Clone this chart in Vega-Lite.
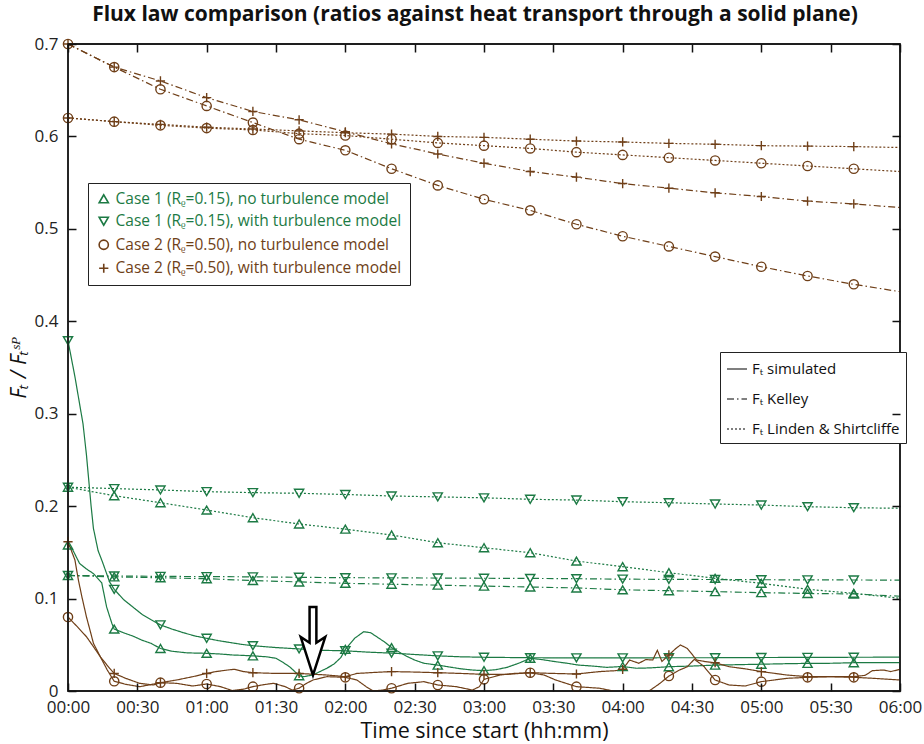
{
 "$schema": "https://vega.github.io/schema/vega-lite/v6.json",
 "width": 832, "height": 647,
 "autosize": "none",
 "padding": {"left": 68, "top": 44, "right": 24, "bottom": 53},
 "background": "white",
 "title": {"text": "Flux law comparison (ratios against heat transport through a solid plane)", "font": "Open Sans", "fontSize": 21, "fontWeight": "bold", "color": "#111", "anchor": "middle", "offset": 10, "dx": -9},
 "datasets": {
  "main": [
   {"c":"c2n","law":"kel","t":0,"v":0.700},{"c":"c2n","law":"kel","t":20,"v":0.675},{"c":"c2n","law":"kel","t":40,"v":0.651},{"c":"c2n","law":"kel","t":60,"v":0.633},{"c":"c2n","law":"kel","t":80,"v":0.615},{"c":"c2n","law":"kel","t":100,"v":0.597},{"c":"c2n","law":"kel","t":120,"v":0.585},{"c":"c2n","law":"kel","t":140,"v":0.565},{"c":"c2n","law":"kel","t":160,"v":0.547},{"c":"c2n","law":"kel","t":180,"v":0.532},{"c":"c2n","law":"kel","t":200,"v":0.520},{"c":"c2n","law":"kel","t":220,"v":0.505},{"c":"c2n","law":"kel","t":240,"v":0.492},{"c":"c2n","law":"kel","t":260,"v":0.481},{"c":"c2n","law":"kel","t":280,"v":0.470},{"c":"c2n","law":"kel","t":300,"v":0.459},{"c":"c2n","law":"kel","t":320,"v":0.449},{"c":"c2n","law":"kel","t":340,"v":0.440},{"c":"c2n","law":"kel","t":360,"v":0.432},
   {"c":"c2t","law":"kel","t":0,"v":0.700},{"c":"c2t","law":"kel","t":20,"v":0.675},{"c":"c2t","law":"kel","t":40,"v":0.660},{"c":"c2t","law":"kel","t":60,"v":0.642},{"c":"c2t","law":"kel","t":80,"v":0.627},{"c":"c2t","law":"kel","t":100,"v":0.618},{"c":"c2t","law":"kel","t":120,"v":0.605},{"c":"c2t","law":"kel","t":140,"v":0.592},{"c":"c2t","law":"kel","t":160,"v":0.581},{"c":"c2t","law":"kel","t":180,"v":0.571},{"c":"c2t","law":"kel","t":200,"v":0.562},{"c":"c2t","law":"kel","t":220,"v":0.556},{"c":"c2t","law":"kel","t":240,"v":0.549},{"c":"c2t","law":"kel","t":260,"v":0.544},{"c":"c2t","law":"kel","t":280,"v":0.539},{"c":"c2t","law":"kel","t":300,"v":0.535},{"c":"c2t","law":"kel","t":320,"v":0.530},{"c":"c2t","law":"kel","t":340,"v":0.527},{"c":"c2t","law":"kel","t":360,"v":0.523},
   {"c":"c2n","law":"ls","t":0,"v":0.620},{"c":"c2n","law":"ls","t":20,"v":0.616},{"c":"c2n","law":"ls","t":40,"v":0.612},{"c":"c2n","law":"ls","t":60,"v":0.609},{"c":"c2n","law":"ls","t":80,"v":0.607},{"c":"c2n","law":"ls","t":100,"v":0.603},{"c":"c2n","law":"ls","t":120,"v":0.601},{"c":"c2n","law":"ls","t":140,"v":0.597},{"c":"c2n","law":"ls","t":160,"v":0.593},{"c":"c2n","law":"ls","t":180,"v":0.590},{"c":"c2n","law":"ls","t":200,"v":0.587},{"c":"c2n","law":"ls","t":220,"v":0.583},{"c":"c2n","law":"ls","t":240,"v":0.580},{"c":"c2n","law":"ls","t":260,"v":0.577},{"c":"c2n","law":"ls","t":280,"v":0.574},{"c":"c2n","law":"ls","t":300,"v":0.571},{"c":"c2n","law":"ls","t":320,"v":0.568},{"c":"c2n","law":"ls","t":340,"v":0.565},{"c":"c2n","law":"ls","t":360,"v":0.562},
   {"c":"c2t","law":"ls","t":0,"v":0.620},{"c":"c2t","law":"ls","t":20,"v":0.616},{"c":"c2t","law":"ls","t":40,"v":0.613},{"c":"c2t","law":"ls","t":60,"v":0.610},{"c":"c2t","law":"ls","t":80,"v":0.608},{"c":"c2t","law":"ls","t":100,"v":0.606},{"c":"c2t","law":"ls","t":120,"v":0.604},{"c":"c2t","law":"ls","t":140,"v":0.6025},{"c":"c2t","law":"ls","t":160,"v":0.600},{"c":"c2t","law":"ls","t":180,"v":0.599},{"c":"c2t","law":"ls","t":200,"v":0.597},{"c":"c2t","law":"ls","t":220,"v":0.595},{"c":"c2t","law":"ls","t":240,"v":0.594},{"c":"c2t","law":"ls","t":260,"v":0.5925},{"c":"c2t","law":"ls","t":280,"v":0.5915},{"c":"c2t","law":"ls","t":300,"v":0.590},{"c":"c2t","law":"ls","t":320,"v":0.5895},{"c":"c2t","law":"ls","t":340,"v":0.589},{"c":"c2t","law":"ls","t":360,"v":0.588},
   {"c":"c1t","law":"ls","t":0,"v":0.2205},{"c":"c1t","law":"ls","t":20,"v":0.219},{"c":"c1t","law":"ls","t":40,"v":0.2175},{"c":"c1t","law":"ls","t":60,"v":0.2157},{"c":"c1t","law":"ls","t":80,"v":0.2146},{"c":"c1t","law":"ls","t":100,"v":0.2139},{"c":"c1t","law":"ls","t":120,"v":0.2126},{"c":"c1t","law":"ls","t":140,"v":0.211},{"c":"c1t","law":"ls","t":160,"v":0.210},{"c":"c1t","law":"ls","t":180,"v":0.209},{"c":"c1t","law":"ls","t":200,"v":0.2074},{"c":"c1t","law":"ls","t":220,"v":0.2066},{"c":"c1t","law":"ls","t":240,"v":0.2048},{"c":"c1t","law":"ls","t":260,"v":0.2037},{"c":"c1t","law":"ls","t":280,"v":0.2023},{"c":"c1t","law":"ls","t":300,"v":0.2012},{"c":"c1t","law":"ls","t":320,"v":0.1994},{"c":"c1t","law":"ls","t":340,"v":0.1983},{"c":"c1t","law":"ls","t":360,"v":0.1977},
   {"c":"c1n","law":"ls","t":0,"v":0.2205},{"c":"c1n","law":"ls","t":20,"v":0.2113},{"c":"c1n","law":"ls","t":40,"v":0.2037},{"c":"c1n","law":"ls","t":60,"v":0.1958},{"c":"c1n","law":"ls","t":80,"v":0.1875},{"c":"c1n","law":"ls","t":100,"v":0.1807},{"c":"c1n","law":"ls","t":120,"v":0.1751},{"c":"c1n","law":"ls","t":140,"v":0.1688},{"c":"c1n","law":"ls","t":160,"v":0.1604},{"c":"c1n","law":"ls","t":180,"v":0.155},{"c":"c1n","law":"ls","t":200,"v":0.1496},{"c":"c1n","law":"ls","t":220,"v":0.1406},{"c":"c1n","law":"ls","t":240,"v":0.1345},{"c":"c1n","law":"ls","t":260,"v":0.128},{"c":"c1n","law":"ls","t":280,"v":0.1219},{"c":"c1n","law":"ls","t":300,"v":0.1165},{"c":"c1n","law":"ls","t":320,"v":0.110},{"c":"c1n","law":"ls","t":340,"v":0.1057},{"c":"c1n","law":"ls","t":360,"v":0.1003},
   {"c":"c1t","law":"kel","t":0,"v":0.125},{"c":"c1t","law":"kel","t":20,"v":0.1245},{"c":"c1t","law":"kel","t":40,"v":0.124},{"c":"c1t","law":"kel","t":60,"v":0.1238},{"c":"c1t","law":"kel","t":80,"v":0.1235},{"c":"c1t","law":"kel","t":100,"v":0.123},{"c":"c1t","law":"kel","t":120,"v":0.1226},{"c":"c1t","law":"kel","t":140,"v":0.1224},{"c":"c1t","law":"kel","t":160,"v":0.1222},{"c":"c1t","law":"kel","t":180,"v":0.122},{"c":"c1t","law":"kel","t":200,"v":0.1218},{"c":"c1t","law":"kel","t":220,"v":0.1215},{"c":"c1t","law":"kel","t":240,"v":0.121},{"c":"c1t","law":"kel","t":260,"v":0.1208},{"c":"c1t","law":"kel","t":280,"v":0.1206},{"c":"c1t","law":"kel","t":300,"v":0.1204},{"c":"c1t","law":"kel","t":320,"v":0.1202},{"c":"c1t","law":"kel","t":340,"v":0.1201},{"c":"c1t","law":"kel","t":360,"v":0.120},
   {"c":"c1n","law":"kel","t":0,"v":0.125},{"c":"c1n","law":"kel","t":20,"v":0.1235},{"c":"c1n","law":"kel","t":40,"v":0.1225},{"c":"c1n","law":"kel","t":60,"v":0.1215},{"c":"c1n","law":"kel","t":80,"v":0.1195},{"c":"c1n","law":"kel","t":100,"v":0.118},{"c":"c1n","law":"kel","t":120,"v":0.1165},{"c":"c1n","law":"kel","t":140,"v":0.1155},{"c":"c1n","law":"kel","t":160,"v":0.1145},{"c":"c1n","law":"kel","t":180,"v":0.1135},{"c":"c1n","law":"kel","t":200,"v":0.1125},{"c":"c1n","law":"kel","t":220,"v":0.1115},{"c":"c1n","law":"kel","t":240,"v":0.1095},{"c":"c1n","law":"kel","t":260,"v":0.1085},{"c":"c1n","law":"kel","t":280,"v":0.1075},{"c":"c1n","law":"kel","t":300,"v":0.1064},{"c":"c1n","law":"kel","t":320,"v":0.1055},{"c":"c1n","law":"kel","t":340,"v":0.105},{"c":"c1n","law":"kel","t":360,"v":0.1025},
   {"c":"c1t","law":"sim","t":0,"v":0.379},{"c":"c1t","law":"sim","t":3,"v":0.34},{"c":"c1t","law":"sim","t":6.5,"v":0.289},{"c":"c1t","law":"sim","t":8,"v":0.255},{"c":"c1t","law":"sim","t":10,"v":0.2},{"c":"c1t","law":"sim","t":11,"v":0.176},{"c":"c1t","law":"sim","t":13,"v":0.152},{"c":"c1t","law":"sim","t":15,"v":0.139},{"c":"c1t","law":"sim","t":18,"v":0.118},{"c":"c1t","law":"sim","t":20,"v":0.110},{"c":"c1t","law":"sim","t":24,"v":0.099},{"c":"c1t","law":"sim","t":28,"v":0.091},{"c":"c1t","law":"sim","t":32,"v":0.083},{"c":"c1t","law":"sim","t":36,"v":0.077},{"c":"c1t","law":"sim","t":40,"v":0.0715},{"c":"c1t","law":"sim","t":45,"v":0.067},{"c":"c1t","law":"sim","t":50,"v":0.063},{"c":"c1t","law":"sim","t":55,"v":0.0595},{"c":"c1t","law":"sim","t":60,"v":0.057},{"c":"c1t","law":"sim","t":65,"v":0.0545},{"c":"c1t","law":"sim","t":70,"v":0.0525},{"c":"c1t","law":"sim","t":75,"v":0.0505},{"c":"c1t","law":"sim","t":80,"v":0.049},{"c":"c1t","law":"sim","t":90,"v":0.047},{"c":"c1t","law":"sim","t":100,"v":0.0455},{"c":"c1t","law":"sim","t":110,"v":0.044},{"c":"c1t","law":"sim","t":120,"v":0.0435},{"c":"c1t","law":"sim","t":130,"v":0.042},{"c":"c1t","law":"sim","t":140,"v":0.041},{"c":"c1t","law":"sim","t":150,"v":0.0395},{"c":"c1t","law":"sim","t":160,"v":0.038},{"c":"c1t","law":"sim","t":170,"v":0.037},{"c":"c1t","law":"sim","t":180,"v":0.0365},{"c":"c1t","law":"sim","t":200,"v":0.036},{"c":"c1t","law":"sim","t":220,"v":0.0358},{"c":"c1t","law":"sim","t":240,"v":0.0358},{"c":"c1t","law":"sim","t":260,"v":0.036},{"c":"c1t","law":"sim","t":280,"v":0.036},{"c":"c1t","law":"sim","t":300,"v":0.0362},{"c":"c1t","law":"sim","t":320,"v":0.0364},{"c":"c1t","law":"sim","t":340,"v":0.0365},{"c":"c1t","law":"sim","t":360,"v":0.0366},
   {"c":"c1n","law":"sim","t":0,"v":0.158},{"c":"c1n","law":"sim","t":2,"v":0.153},{"c":"c1n","law":"sim","t":5,"v":0.138},{"c":"c1n","law":"sim","t":8,"v":0.132},{"c":"c1n","law":"sim","t":11,"v":0.127},{"c":"c1n","law":"sim","t":14.6,"v":0.117},{"c":"c1n","law":"sim","t":16.7,"v":0.091},{"c":"c1n","law":"sim","t":19,"v":0.073},{"c":"c1n","law":"sim","t":20,"v":0.067},{"c":"c1n","law":"sim","t":24,"v":0.063},{"c":"c1n","law":"sim","t":28,"v":0.0595},{"c":"c1n","law":"sim","t":32,"v":0.055},{"c":"c1n","law":"sim","t":36,"v":0.0515},{"c":"c1n","law":"sim","t":40,"v":0.046},{"c":"c1n","law":"sim","t":45,"v":0.043},{"c":"c1n","law":"sim","t":51,"v":0.0414},{"c":"c1n","law":"sim","t":55,"v":0.041},{"c":"c1n","law":"sim","t":60,"v":0.0408},{"c":"c1n","law":"sim","t":66,"v":0.040},{"c":"c1n","law":"sim","t":71,"v":0.039},{"c":"c1n","law":"sim","t":76,"v":0.0385},{"c":"c1n","law":"sim","t":80,"v":0.038},{"c":"c1n","law":"sim","t":86,"v":0.037},{"c":"c1n","law":"sim","t":90,"v":0.0354},{"c":"c1n","law":"sim","t":93,"v":0.031},{"c":"c1n","law":"sim","t":96,"v":0.026},{"c":"c1n","law":"sim","t":99,"v":0.019},{"c":"c1n","law":"sim","t":100,"v":0.0165},{"c":"c1n","law":"sim","t":102,"v":0.0155},{"c":"c1n","law":"sim","t":106,"v":0.0173},{"c":"c1n","law":"sim","t":109,"v":0.021},{"c":"c1n","law":"sim","t":112,"v":0.0246},{"c":"c1n","law":"sim","t":115,"v":0.029},{"c":"c1n","law":"sim","t":118,"v":0.036},{"c":"c1n","law":"sim","t":120,"v":0.045},{"c":"c1n","law":"sim","t":124,"v":0.057},{"c":"c1n","law":"sim","t":128,"v":0.0642},{"c":"c1n","law":"sim","t":131,"v":0.063},{"c":"c1n","law":"sim","t":134,"v":0.058},{"c":"c1n","law":"sim","t":137,"v":0.053},{"c":"c1n","law":"sim","t":140,"v":0.047},{"c":"c1n","law":"sim","t":144,"v":0.041},{"c":"c1n","law":"sim","t":147,"v":0.037},{"c":"c1n","law":"sim","t":150,"v":0.0335},{"c":"c1n","law":"sim","t":154,"v":0.030},{"c":"c1n","law":"sim","t":160,"v":0.028},{"c":"c1n","law":"sim","t":165,"v":0.026},{"c":"c1n","law":"sim","t":170,"v":0.024},{"c":"c1n","law":"sim","t":175,"v":0.0227},{"c":"c1n","law":"sim","t":180,"v":0.022},{"c":"c1n","law":"sim","t":185,"v":0.023},{"c":"c1n","law":"sim","t":190,"v":0.0256},{"c":"c1n","law":"sim","t":195,"v":0.030},{"c":"c1n","law":"sim","t":200,"v":0.0354},{"c":"c1n","law":"sim","t":205,"v":0.034},{"c":"c1n","law":"sim","t":211,"v":0.0317},{"c":"c1n","law":"sim","t":216,"v":0.030},{"c":"c1n","law":"sim","t":221,"v":0.028},{"c":"c1n","law":"sim","t":227,"v":0.027},{"c":"c1n","law":"sim","t":233,"v":0.0256},{"c":"c1n","law":"sim","t":240,"v":0.0265},{"c":"c1n","law":"sim","t":246,"v":0.0246},{"c":"c1n","law":"sim","t":252,"v":0.025},{"c":"c1n","law":"sim","t":260,"v":0.0263},{"c":"c1n","law":"sim","t":270,"v":0.027},{"c":"c1n","law":"sim","t":280,"v":0.028},{"c":"c1n","law":"sim","t":290,"v":0.0285},{"c":"c1n","law":"sim","t":300,"v":0.029},{"c":"c1n","law":"sim","t":310,"v":0.0295},{"c":"c1n","law":"sim","t":320,"v":0.0299},{"c":"c1n","law":"sim","t":330,"v":0.030},{"c":"c1n","law":"sim","t":340,"v":0.0306},{"c":"c1n","law":"sim","t":350,"v":0.0306},{"c":"c1n","law":"sim","t":360,"v":0.0306},
   {"c":"c2t","law":"sim","t":0,"v":0.1615},{"c":"c2t","law":"sim","t":3,"v":0.1417},{"c":"c2t","law":"sim","t":4.5,"v":0.12},{"c":"c2t","law":"sim","t":6,"v":0.102},{"c":"c2t","law":"sim","t":8,"v":0.080},{"c":"c2t","law":"sim","t":9.5,"v":0.066},{"c":"c2t","law":"sim","t":11,"v":0.0516},{"c":"c2t","law":"sim","t":14,"v":0.037},{"c":"c2t","law":"sim","t":18,"v":0.0246},{"c":"c2t","law":"sim","t":20,"v":0.019},{"c":"c2t","law":"sim","t":25,"v":0.0137},{"c":"c2t","law":"sim","t":31,"v":0.0083},{"c":"c2t","law":"sim","t":37,"v":0.0065},{"c":"c2t","law":"sim","t":40,"v":0.009},{"c":"c2t","law":"sim","t":47,"v":0.0119},{"c":"c2t","law":"sim","t":54,"v":0.0155},{"c":"c2t","law":"sim","t":60,"v":0.019},{"c":"c2t","law":"sim","t":64,"v":0.021},{"c":"c2t","law":"sim","t":69,"v":0.0227},{"c":"c2t","law":"sim","t":72,"v":0.0235},{"c":"c2t","law":"sim","t":76,"v":0.021},{"c":"c2t","law":"sim","t":80,"v":0.0198},{"c":"c2t","law":"sim","t":90,"v":0.019},{"c":"c2t","law":"sim","t":100,"v":0.019},{"c":"c2t","law":"sim","t":112,"v":0.0173},{"c":"c2t","law":"sim","t":120,"v":0.0155},{"c":"c2t","law":"sim","t":125,"v":0.019},{"c":"c2t","law":"sim","t":132,"v":0.020},{"c":"c2t","law":"sim","t":140,"v":0.021},{"c":"c2t","law":"sim","t":150,"v":0.0205},{"c":"c2t","law":"sim","t":160,"v":0.0198},{"c":"c2t","law":"sim","t":170,"v":0.019},{"c":"c2t","law":"sim","t":180,"v":0.018},{"c":"c2t","law":"sim","t":190,"v":0.018},{"c":"c2t","law":"sim","t":200,"v":0.0198},{"c":"c2t","law":"sim","t":210,"v":0.019},{"c":"c2t","law":"sim","t":220,"v":0.0184},{"c":"c2t","law":"sim","t":230,"v":0.021},{"c":"c2t","law":"sim","t":237,"v":0.022},{"c":"c2t","law":"sim","t":240,"v":0.0235},{"c":"c2t","law":"sim","t":243,"v":0.0335},{"c":"c2t","law":"sim","t":247,"v":0.030},{"c":"c2t","law":"sim","t":250,"v":0.034},{"c":"c2t","law":"sim","t":253,"v":0.0335},{"c":"c2t","law":"sim","t":255,"v":0.044},{"c":"c2t","law":"sim","t":257,"v":0.032},{"c":"c2t","law":"sim","t":260,"v":0.039},{"c":"c2t","law":"sim","t":263,"v":0.046},{"c":"c2t","law":"sim","t":265,"v":0.0498},{"c":"c2t","law":"sim","t":268,"v":0.046},{"c":"c2t","law":"sim","t":272,"v":0.0335},{"c":"c2t","law":"sim","t":276,"v":0.0317},{"c":"c2t","law":"sim","t":280,"v":0.0306},{"c":"c2t","law":"sim","t":286,"v":0.0263},{"c":"c2t","law":"sim","t":293,"v":0.024},{"c":"c2t","law":"sim","t":300,"v":0.021},{"c":"c2t","law":"sim","t":306,"v":0.019},{"c":"c2t","law":"sim","t":311,"v":0.0173},{"c":"c2t","law":"sim","t":320,"v":0.0155},{"c":"c2t","law":"sim","t":330,"v":0.0155},{"c":"c2t","law":"sim","t":340,"v":0.0155},{"c":"c2t","law":"sim","t":345,"v":0.017},{"c":"c2t","law":"sim","t":348,"v":0.022},{"c":"c2t","law":"sim","t":353,"v":0.0227},{"c":"c2t","law":"sim","t":356,"v":0.021},{"c":"c2t","law":"sim","t":360,"v":0.0235},
   {"c":"c2n","law":"sim","t":0,"v":0.080},{"c":"c2n","law":"sim","t":4,"v":0.0696},{"c":"c2n","law":"sim","t":8,"v":0.0587},{"c":"c2n","law":"sim","t":11,"v":0.048},{"c":"c2n","law":"sim","t":14,"v":0.037},{"c":"c2n","law":"sim","t":17,"v":0.0227},{"c":"c2n","law":"sim","t":20,"v":0.0105},{"c":"c2n","law":"sim","t":25,"v":0.0072},{"c":"c2n","law":"sim","t":31,"v":0.0047},{"c":"c2n","law":"sim","t":35,"v":0.0065},{"c":"c2n","law":"sim","t":40,"v":0.009},{"c":"c2n","law":"sim","t":47,"v":0.0083},{"c":"c2n","law":"sim","t":54,"v":0.0054},{"c":"c2n","law":"sim","t":60,"v":0.0076},{"c":"c2n","law":"sim","t":66,"v":0.0047},{"c":"c2n","law":"sim","t":71,"v":0.0005},{"c":"c2n","law":"sim","t":76,"v":0.002},{"c":"c2n","law":"sim","t":80,"v":0.0047},{"c":"c2n","law":"sim","t":85,"v":0.007},{"c":"c2n","law":"sim","t":89,"v":0.0083},{"c":"c2n","law":"sim","t":94,"v":0.0047},{"c":"c2n","law":"sim","t":97,"v":0.001},{"c":"c2n","law":"sim","t":100,"v":0.003},{"c":"c2n","law":"sim","t":103,"v":0.008},{"c":"c2n","law":"sim","t":106,"v":0.0119},{"c":"c2n","law":"sim","t":112,"v":0.0155},{"c":"c2n","law":"sim","t":120,"v":0.0148},{"c":"c2n","law":"sim","t":125,"v":0.0119},{"c":"c2n","law":"sim","t":129,"v":0.0047},{"c":"c2n","law":"sim","t":132,"v":0.0},{"c":"c2n","law":"sim","t":136,"v":0.001},{"c":"c2n","law":"sim","t":140,"v":0.003},{"c":"c2n","law":"sim","t":147,"v":0.0083},{"c":"c2n","law":"sim","t":154,"v":0.0101},{"c":"c2n","law":"sim","t":160,"v":0.0065},{"c":"c2n","law":"sim","t":168,"v":0.0047},{"c":"c2n","law":"sim","t":175,"v":0.001},{"c":"c2n","law":"sim","t":178,"v":0.0047},{"c":"c2n","law":"sim","t":180,"v":0.0126},{"c":"c2n","law":"sim","t":187,"v":0.0173},{"c":"c2n","law":"sim","t":193,"v":0.019},{"c":"c2n","law":"sim","t":200,"v":0.0198},{"c":"c2n","law":"sim","t":206,"v":0.0173},{"c":"c2n","law":"sim","t":211,"v":0.0119},{"c":"c2n","law":"sim","t":220,"v":0.0047},{"c":"c2n","law":"sim","t":230,"v":0.003},{"c":"c2n","law":"sim","t":236,"v":0.0},{"c":"c2n","law":"sim","t":240,"v":-0.008},{"c":"c2n","law":"sim","t":248,"v":-0.004},{"c":"c2n","law":"sim","t":252,"v":0.001},{"c":"c2n","law":"sim","t":256,"v":0.008},{"c":"c2n","law":"sim","t":260,"v":0.0162},{"c":"c2n","law":"sim","t":264,"v":0.022},{"c":"c2n","law":"sim","t":268,"v":0.0263},{"c":"c2n","law":"sim","t":271,"v":0.0343},{"c":"c2n","law":"sim","t":275,"v":0.027},{"c":"c2n","law":"sim","t":280,"v":0.0119},{"c":"c2n","law":"sim","t":286,"v":0.0065},{"c":"c2n","law":"sim","t":293,"v":0.0054},{"c":"c2n","law":"sim","t":300,"v":0.0101},{"c":"c2n","law":"sim","t":311,"v":0.0137},{"c":"c2n","law":"sim","t":320,"v":0.0148},{"c":"c2n","law":"sim","t":330,"v":0.0155},{"c":"c2n","law":"sim","t":340,"v":0.0148},{"c":"c2n","law":"sim","t":350,"v":0.0135},{"c":"c2n","law":"sim","t":360,"v":0.0119}
  ],
  "arrow": [{"t": 106, "v": 0.054}],
  "frame": [{"t0": 0, "t1": 360, "v0": 0, "v1": 0.7}]
 },
 "layer": [
  {
   "data": {"name": "main"},
   "mark": {"type": "line", "clip": true, "strokeWidth": 1.2},
   "encoding": {
    "x": {"field": "t", "type": "quantitative", "scale": {"domain": [0, 360], "nice": false, "zero": false},
          "axis": {"orient": "bottom", "offset": -8, "domain": false, "ticks": true, "zindex": 2, "labelPadding": 8, "values": [0,30,60,90,120,150,180,210,240,270,300,330,360], "labelFlush": false, "labelExpr": "utcFormat(datum.value*60000, '%H:%M')", "title": "Time since start (hh:mm)", "titlePadding": 5}},
    "y": {"field": "v", "type": "quantitative", "scale": {"domain": [0, 0.7], "nice": false},
          "axis": {"orient": "left", "offset": -8, "domain": false, "ticks": true, "zindex": 2, "labelPadding": 10, "values": [0,0.1,0.2,0.3,0.4,0.5,0.6,0.7], "labelFlush": false, "labelExpr": "datum.value == 0 ? '0' : format(datum.value, '.1f')", "title": "Fₜ / Fₜˢᴾ", "titleFontStyle": "italic", "titlePadding": 4}},
    "stroke": {"field": "c", "type": "nominal", "scale": {"domain": ["c2t","c2n","c1t","c1n"], "range": ["#6f3f18","#6f3f18","#1c7a44","#1c7a44"]}, "legend": null},
    "strokeDash": {"field": "law", "type": "nominal", "scale": {"domain": ["sim","kel","ls"], "range": [[1,0],[7,3,1.5,3],[2,2]]},
      "legend": {"orient": "none", "legendX": 652, "legendY": 308, "title": null, "strokeColor": "#222", "fillColor": "white", "padding": 6,
                 "labelFontSize": 15, "labelColor": "#111", "symbolType": "stroke", "symbolStrokeColor": "black", "symbolStrokeWidth": 1.1, "symbolSize": 400, "rowPadding": 11,
                 "labelExpr": "datum.value == 'sim' ? 'Fₜ simulated' : datum.value == 'kel' ? 'Fₜ Kelley' : 'Fₜ Linden & Shirtcliffe'"}}
   }
  },
  {
   "data": {"name": "main"},
   "transform": [{"filter": "datum.t % 20 == 0 && datum.t <= 340 && datum.v >= 0"}],
   "mark": {"type": "point", "filled": false, "size": 85, "strokeWidth": 1.4, "opacity": 1},
   "encoding": {
    "x": {"field": "t", "type": "quantitative", "axis": {"orient": "top", "offset": -8, "domain": false, "ticks": true, "zindex": 2, "values": [0,30,60,90,120,150,180,210,240,270,300,330,360], "labels": false, "title": null}},
    "y": {"field": "v", "type": "quantitative", "axis": {"orient": "right", "offset": -8, "domain": false, "ticks": true, "zindex": 2, "values": [0,0.1,0.2,0.3,0.4,0.5,0.6,0.7], "labels": false, "title": null}},
    "color": {"field": "c", "type": "nominal", "scale": {"domain": ["c1n","c1t","c2n","c2t"], "range": ["#1c7a44","#1c7a44","#6f3f18","#6f3f18"]},
      "legend": {"orient": "none", "legendX": 20, "legendY": 139, "title": null, "strokeColor": "#222", "fillColor": "white", "padding": 8, "labelLimit": 400,
                 "labelFontSize": 15.5, "symbolSize": 85, "symbolStrokeWidth": 1.6, "rowPadding": 5.5,
                 "labelColor": {"expr": "indexof(datum.value, 'c1') == 0 ? '#1c7a44' : '#6f3f18'"},
                 "labelExpr": "datum.value == 'c1n' ? 'Case 1 (Rᵨ=0.15), no turbulence model' : datum.value == 'c1t' ? 'Case 1 (Rᵨ=0.15), with turbulence model' : datum.value == 'c2n' ? 'Case 2 (Rᵨ=0.50), no turbulence model' : 'Case 2 (Rᵨ=0.50), with turbulence model'"}},
    "shape": {"field": "c", "type": "nominal", "scale": {"domain": ["c1n","c1t","c2n","c2t"], "range": ["triangle-up","triangle-down","circle","M-1,0L1,0M0,-1L0,1"]},
      "legend": {"orient": "none", "legendX": 20, "legendY": 139, "title": null, "strokeColor": "#222", "fillColor": "white", "padding": 8, "labelLimit": 400,
                 "labelFontSize": 15.5, "symbolSize": 85, "symbolStrokeWidth": 1.6, "rowPadding": 5.5,
                 "labelColor": {"expr": "indexof(datum.value, 'c1') == 0 ? '#1c7a44' : '#6f3f18'"},
                 "labelExpr": "datum.value == 'c1n' ? 'Case 1 (Rᵨ=0.15), no turbulence model' : datum.value == 'c1t' ? 'Case 1 (Rᵨ=0.15), with turbulence model' : datum.value == 'c2n' ? 'Case 2 (Rᵨ=0.50), no turbulence model' : 'Case 2 (Rᵨ=0.50), with turbulence model'"}}
   }
  },
  {
   "data": {"name": "arrow"},
   "mark": {"type": "point", "shape": "M-0.1,-1L0.1,-1L0.1,0.05L0.36,-0.12L0,1L-0.36,-0.12L-0.1,0.05Z", "size": 4624, "filled": true, "fill": "white", "stroke": "black", "strokeWidth": 2.5, "opacity": 1},
   "encoding": {
    "x": {"field": "t", "type": "quantitative", "axis": null},
    "y": {"field": "v", "type": "quantitative", "axis": null}
   }
  },
  {
   "data": {"name": "frame"},
   "mark": {"type": "rect", "fill": "white", "fillOpacity": 0, "stroke": "#111", "strokeWidth": 1.3},
   "encoding": {
    "x": {"field": "t0", "type": "quantitative", "axis": null},
    "x2": {"field": "t1"},
    "y": {"field": "v0", "type": "quantitative", "axis": null},
    "y2": {"field": "v1"}
   }
  }
 ],
 "resolve": {"axis": {"x": "independent", "y": "independent"}},
 "config": {
  "font": "Open Sans",
  "view": {"stroke": "#111", "strokeWidth": 1.5},
  "axis": {"grid": false, "domainColor": "#111", "tickColor": "#111", "labelColor": "#222", "titleColor": "#111", "labelFontSize": 17, "titleFontSize": 21.5, "titleFontWeight": "normal", "tickSize": 8, "domainWidth": 1.3, "tickWidth": 1.5},
  "legend": {"labelFont": "Open Sans"}
 }
}
